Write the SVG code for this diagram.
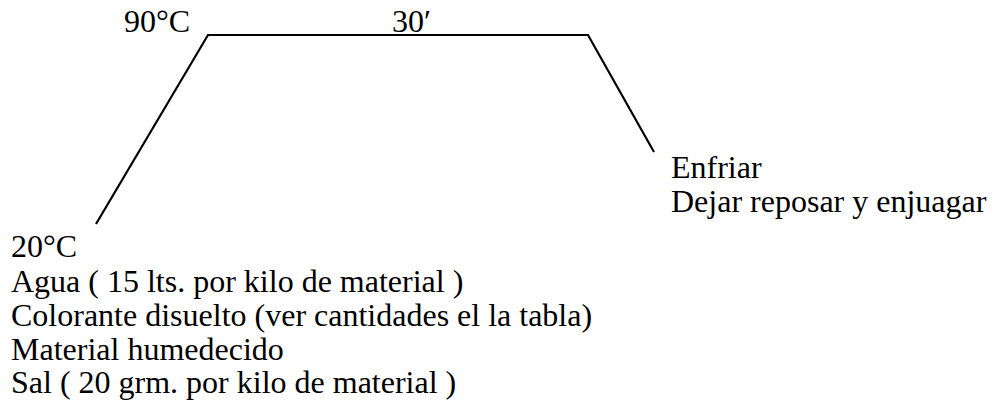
<svg xmlns="http://www.w3.org/2000/svg" width="997" height="416" viewBox="0 0 997 416">
<style>
text { font-family: "Liberation Serif", "Times New Roman", serif; font-size: 32px; fill: #000; }
.ln { fill: none; stroke: #000; stroke-width: 2.2; stroke-linejoin: miter; }
</style>
<rect width="997" height="416" fill="#fff"/>
<g id="connectors">
<polyline class="ln" points="96,224 208,35 588,35 654,152"/>
</g>
<g id="label-90">
<text x="124" y="32">90°C</text>
</g>
<g id="label-30">
<text x="392" y="32">30′</text>
</g>
<g id="label-end">
<text x="671" y="178">Enfriar</text>
<text x="671" y="212">Dejar reposar y enjuagar</text>
</g>
<g id="label-start">
<text x="11" y="257">20°C</text>
<text x="11" y="292">Agua ( 15 lts. por kilo de material )</text>
<text x="11" y="326">Colorante disuelto (ver cantidades el la tabla)</text>
<text x="11" y="360">Material humedecido</text>
<text x="11" y="393">Sal ( 20 grm. por kilo de material )</text>
</g>
</svg>
